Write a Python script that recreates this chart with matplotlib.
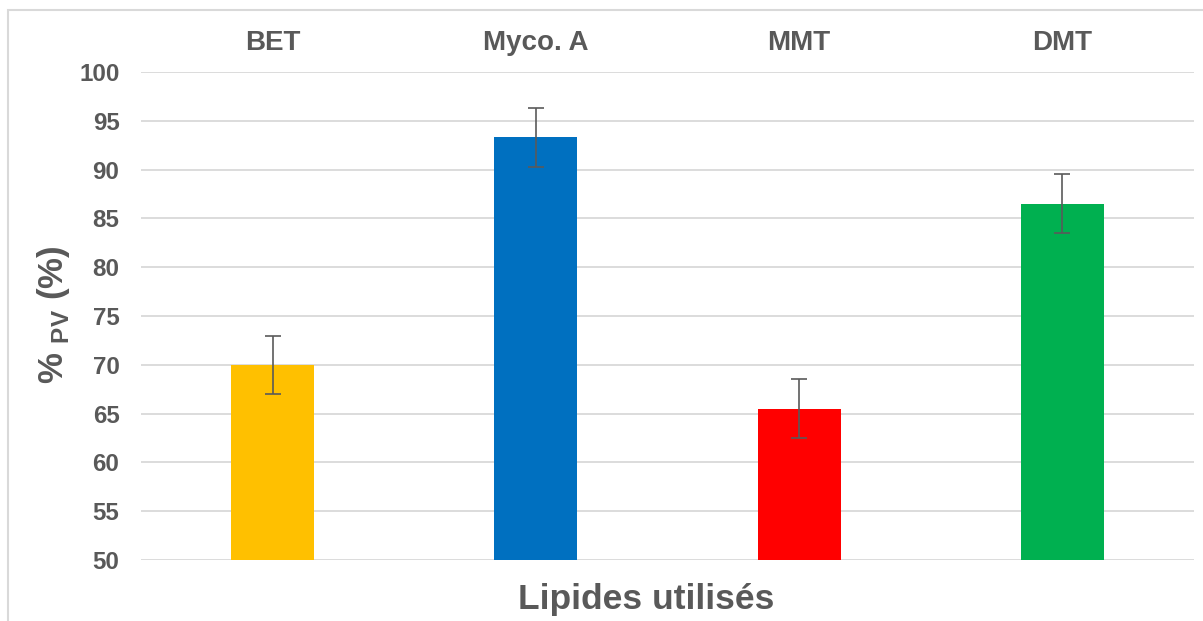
import matplotlib.pyplot as plt
from matplotlib.patches import Rectangle
import numpy as np

plt.rcParams['font.family'] = ['Liberation Sans', 'DejaVu Sans']
plt.rcParams['mathtext.fontset'] = 'custom'
plt.rcParams['mathtext.rm'] = 'Liberation Sans:bold'
plt.rcParams['mathtext.bf'] = 'Liberation Sans:bold'

categories = ['BET', 'Myco. A', 'MMT', 'DMT']
values = [70.0, 93.3, 65.5, 86.5]
errors = [3.0, 3.0, 3.0, 3.0]
colors = ['#FFC000', '#0070C0', '#FF0000', '#00B050']
yticks = [50, 55, 60, 65, 70, 75, 80, 85, 90, 95, 100]

txt = '#595959'

fig = plt.figure(figsize=(12.03, 6.21), dpi=100)
ax = fig.add_axes([141 / 1203, 1 - 560 / 621, (1194 - 141) / 1203, (560 - 72) / 621])

x = np.arange(len(categories))
ax.bar(x, values, width=0.316, color=colors, zorder=3)
ax.errorbar(x, values, yerr=errors, fmt='none', ecolor='#5a5a5a',
            elinewidth=1.2, capsize=6, capthick=1.2, zorder=4)

ax.set_xlim(-0.5, len(categories) - 0.5)
ax.set_ylim(50, 100)
ax.set_yticks(yticks)
ax.grid(axis='y', color='#D9D9D9', linewidth=1.3, zorder=0)
ax.set_axisbelow(True)
for s in ax.spines.values():
    s.set_visible(False)

ax.xaxis.tick_top()
ax.set_xticks(x)
ax.set_xticklabels(categories)
ax.tick_params(axis='x', length=0, pad=11.5, labelsize=20, labelcolor=txt)
ax.tick_params(axis='y', length=0, pad=15.5, labelsize=17.4, labelcolor=txt)
for lab in ax.get_xticklabels() + ax.get_yticklabels():
    lab.set_fontweight('bold')

fig.text(646 / 1203, 1 - 600 / 621, 'Lipides utilisés', ha='center', va='center',
         fontsize=25.5, fontweight='bold', color=txt)
fig.text(53 / 1203, 1 - 315 / 621, r'% $_{\mathbf{PV}}$ (%)', ha='center', va='center',
         rotation=90, fontsize=25, fontweight='bold', color=txt)

fig.patches.append(Rectangle((8 / 1203, -0.1), 1.2, 1 - 10 / 621 + 0.1,
                             transform=fig.transFigure, fill=False,
                             edgecolor='#D9D9D9', linewidth=1.5))

fig.savefig('out.png', dpi=100)
